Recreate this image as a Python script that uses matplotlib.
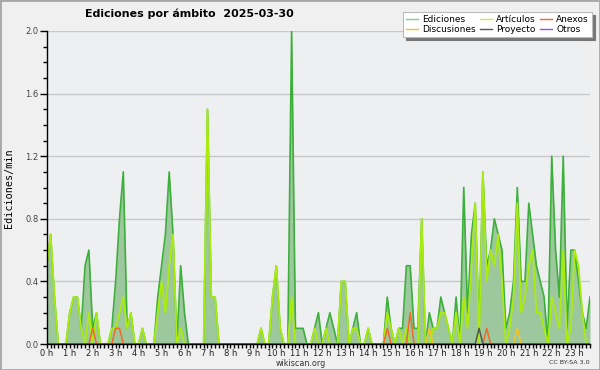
import matplotlib
matplotlib.use("Agg")
import matplotlib.pyplot as plt
from matplotlib.lines import Line2D
from matplotlib.patches import Rectangle
import numpy as np

# 10-minute buckets, edits per minute
ediciones = [0.5, 0.7, 0.3, 0, 0, 0, 0.2, 0.3, 0.3, 0.1,
             0.5, 0.6, 0.1, 0.2, 0, 0, 0, 0.1, 0.4, 0.8,
             1.1, 0.1, 0.2, 0, 0, 0.1, 0, 0, 0, 0.3,
             0.5, 0.7, 1.1, 0.7, 0, 0.5, 0.2, 0, 0, 0,
             0, 0, 1.5, 0.3, 0.3, 0, 0, 0, 0, 0,
             0, 0, 0, 0, 0, 0, 0.1, 0, 0, 0.3,
             0.5, 0.1, 0, 0, 2.0, 0.1, 0.1, 0.1, 0, 0,
             0.1, 0.2, 0, 0.1, 0.2, 0.1, 0, 0.4, 0.4, 0,
             0.1, 0.2, 0, 0, 0.1, 0, 0, 0, 0, 0.3,
             0.1, 0, 0.1, 0.1, 0.5, 0.5, 0.1, 0.1, 0.8, 0,
             0.2, 0.1, 0.1, 0.3, 0.2, 0.1, 0, 0.3, 0, 1.0,
             0.2, 0.7, 0.9, 0.1, 1.1, 0.5, 0.6, 0.8, 0.7, 0.6,
             0.1, 0.2, 0.4, 1.0, 0.4, 0.4, 0.9, 0.7, 0.5, 0.4,
             0.3, 0, 1.2, 0.6, 0.3, 1.2, 0.1, 0.6, 0.6, 0.4,
             0.2, 0.1, 0.3]

articulos = [0.5, 0.7, 0.3, 0, 0, 0, 0.2, 0.3, 0.3, 0.1,
             0, 0.2, 0, 0.2, 0, 0, 0, 0.1, 0.1, 0.2,
             0.3, 0.1, 0.2, 0, 0, 0.1, 0, 0, 0, 0.2,
             0.4, 0.2, 0.5, 0.7, 0, 0.1, 0, 0, 0, 0,
             0, 0, 1.5, 0.3, 0.3, 0, 0, 0, 0, 0,
             0, 0, 0, 0, 0, 0, 0.1, 0, 0, 0.3,
             0.5, 0.1, 0, 0, 0.3, 0, 0, 0, 0, 0,
             0.1, 0, 0, 0.1, 0, 0, 0, 0.4, 0.4, 0,
             0.1, 0.1, 0, 0, 0.1, 0, 0, 0, 0, 0.2,
             0.1, 0, 0.1, 0, 0.1, 0, 0, 0, 0.8, 0,
             0, 0.1, 0.1, 0.2, 0.2, 0.1, 0, 0.2, 0, 0.3,
             0.1, 0.5, 0.9, 0, 1.1, 0.4, 0.6, 0.5, 0.7, 0.4,
             0, 0.1, 0.3, 0.9, 0.2, 0.3, 0.5, 0.6, 0.2, 0.2,
             0.1, 0, 0.3, 0.2, 0.1, 0.6, 0, 0.1, 0.6, 0.5,
             0.2, 0, 0]

# the small series are mostly zero: bucket index -> value
anexos_idx = [12, 18, 19, 89, 95, 115]
anexos_val = [0.1, 0.1, 0.1, 0.1, 0.2, 0.1]
discusiones_idx = [100, 123]
discusiones_val = [0.1, 0.1]
proyecto_idx = [113]
proyecto_val = [0.1]

hour_labels = ["%d h" % h for h in range(24)]

n = len(ediciones)
x = np.arange(n)


def sparse(idx, val):
    s = np.zeros(n)
    s[idx] = val
    return s


anexos = sparse(anexos_idx, anexos_val)
discusiones = sparse(discusiones_idx, discusiones_val)
proyecto = sparse(proyecto_idx, proyecto_val)

c_edic = '#3caf3c'
c_art = '#aaec10'
c_anx = '#f06a28'
c_disc = '#f2c428'
c_proy = '#555555'
c_otr = '#9a4ee8'

fig = plt.figure(figsize=(6, 3.7), dpi=100, facecolor='#f0f0f0')
ax = fig.add_axes([46.8 / 600, 26 / 370, (590 - 46.8) / 600, 313 / 370])
ax.set_facecolor('#eeeff1')

ax.fill_between(x, ediciones, 0, color='#9dc89d', lw=0, zorder=1)
ax.plot(x, ediciones, color=c_edic, lw=1.2, zorder=3)
ax.plot(x, articulos, color=c_art, lw=1.3, zorder=4)
ax.plot(x, anexos, color=c_anx, lw=1.1, zorder=5)
ax.plot(x, discusiones, color=c_disc, lw=1.1, zorder=5)
ax.plot(x, proyecto, color=c_proy, lw=1.1, zorder=5)

ax.set_xlim(0, n - 1)
ax.set_ylim(0, 2.0)

ax.set_yticks(np.arange(0, 2.01, 0.4))
ax.set_yticks(np.arange(0, 2.01, 0.1), minor=True)
ax.set_yticklabels(["%.1f" % v for v in np.arange(0, 2.01, 0.4)])
ax.set_xticks(np.arange(0, 24) * 6)
ax.set_xticklabels(hour_labels)
ax.set_xticks(x, minor=True)

ax.tick_params(axis='y', which='major', length=5, width=1, pad=1,
               labelsize=6, labelcolor='#444444')
ax.tick_params(axis='y', which='minor', length=3, width=1)
ax.tick_params(axis='x', which='both', length=3, width=1, pad=0.5,
               labelsize=6, labelcolor='#222222')

ax.grid(axis='y', which='major', color='#c8c8c8', lw=1, zorder=0)
ax.set_axisbelow(True)
for side in ['top', 'right']:
    ax.spines[side].set_visible(False)
for side in ['left', 'bottom']:
    ax.spines[side].set_color('black')
    ax.spines[side].set_linewidth(1)
    ax.spines[side].set_zorder(6)

fig.text(9.5 / 600, 1 - 188 / 370, 'Ediciones/min', rotation=90,
         family='DejaVu Sans Mono', fontsize=7.3, ha='center', va='center')
fig.text(85 / 600, 1 - 14 / 370, 'Ediciones por ámbito  2025-03-30',
         fontsize=7.9, fontweight='bold', ha='left', va='center')
fig.text(301 / 600, 1 - 363 / 370, 'wikiscan.org', fontsize=5.8,
         ha='center', va='center', color='#333333')
fig.text(590 / 600, 1 - 363 / 370, 'CC BY-SA 3.0', fontsize=4.6,
         ha='right', va='center', color='#333333')

labels = ['Ediciones', 'Discusiones', 'Artículos', 'Proyecto', 'Anexos', 'Otros']
colors = ['#7fd07f', c_disc, '#c8f040', c_proy, c_anx, c_otr]
handles = [Line2D([], [], color=c, lw=1) for c in colors]
leg = fig.legend(handles, labels, ncol=3, loc='upper right',
                 bbox_to_anchor=(592 / 600, 1 - 12 / 370),
                 fontsize=6.5, frameon=True, fancybox=False,
                 shadow={'color': '#777777', 'alpha': 1, 'ox': 2, 'oy': -2},
                 handlelength=1.3, handletextpad=0.5, columnspacing=0.45,
                 labelspacing=0.1, borderpad=0.35, borderaxespad=0)
leg.get_frame().set_facecolor('white')
leg.get_frame().set_edgecolor('#bbbbbb')
leg.get_frame().set_linewidth(0.8)
leg.get_frame().set_alpha(1)

fig.patches.append(Rectangle((0, 0), 1, 1, transform=fig.transFigure,
                             fill=False, edgecolor='#a8a8a8', lw=2))

fig.savefig('out.png', dpi=100, facecolor=fig.get_facecolor())
